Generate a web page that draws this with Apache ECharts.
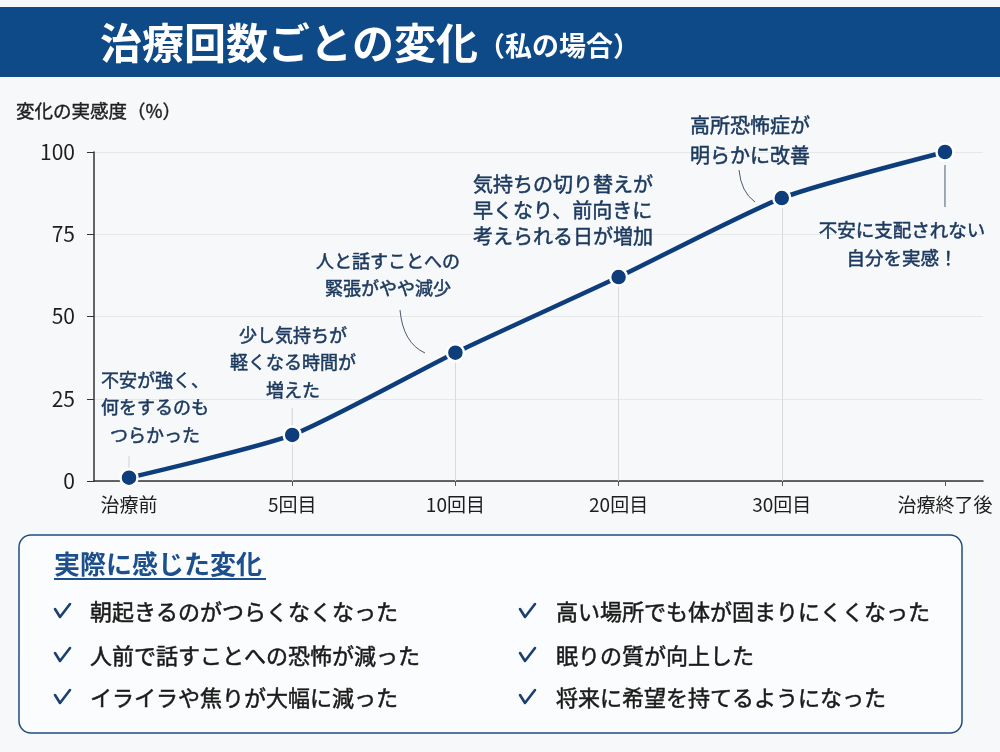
<!DOCTYPE html>
<html lang="ja">
<head>
<meta charset="utf-8">
<title>治療回数ごとの変化</title>
<script src="https://cdn.jsdelivr.net/npm/echarts@6/dist/echarts.min.js"></script>
<style>
  html, body { margin: 0; padding: 0; background: #f7f8f9; }
  #chart { width: 1000px; height: 752px; }
</style>
</head>
<body>
<div id="chart"></div>
<script>
// データ
const categories = ['治療前', '5回目', '10回目', '20回目', '30回目', '治療終了後'];
const values = [1, 14, 39, 62, 86, 100];
const yTicks = [0, 25, 50, 75, 100];
const notes = [
  '不安が強く、\n何をするのも\nつらかった',
  '少し気持ちが\n軽くなる時間が\n増えた',
  '人と話すことへの\n緊張がやや減少',
  '気持ちの切り替えが\n早くなり、前向きに\n考えられる日が増加',
  '高所恐怖症が\n明らかに改善',
  '不安に支配されない\n自分を実感！'
];
const changesLeft = ['朝起きるのがつらくなくなった', '人前で話すことへの恐怖が減った', 'イライラや焦りが大幅に減った'];
const changesRight = ['高い場所でも体が固まりにくくなった', '眠りの質が向上した', '将来に希望を持てるようになった'];

const FONT = '"Noto Sans CJK JP", "Noto Sans", sans-serif';
const NAVY = '#0d3d7b';
const TEXT_NAVY = '#1c3a60';

// 注釈の配置（テキスト枠の基準位置）
const noteLayout = [
  { x: 155, y: 366, align: 'center', size: 18, lh: 27.5 },
  { x: 293, y: 321, align: 'center', size: 18, lh: 27.5 },
  { x: 388, y: 248, align: 'center', size: 18, lh: 27 },
  { x: 473, y: 171, align: 'left', size: 20, lh: 26 },
  { x: 690, y: 110, align: 'left', size: 20, lh: 30 },
  { x: 902, y: 216, align: 'center', size: 18.5, lh: 28 }
];

const chart = echarts.init(document.getElementById('chart'));

chart.setOption({
  backgroundColor: '#f7f8f9',
  animation: false,
  grid: { left: 94, right: 17, top: 152, bottom: 271 },
  xAxis: {
    type: 'value',
    min: -0.2145,
    max: 5.233,
    axisLine: { show: true, onZero: false, lineStyle: { color: '#333', width: 1.5 } },
    axisTick: { show: true, length: 5, customValues: categories.map((_, i) => i), lineStyle: { color: '#555' } },
    axisLabel: {
      customValues: categories.map((_, i) => i),
      formatter: v => categories[Math.round(v)],
      fontSize: 19, color: '#1e1e1e', fontFamily: FONT, margin: 14
    },
    splitLine: { show: false }
  },
  yAxis: {
    type: 'value',
    min: yTicks[0],
    max: yTicks[yTicks.length - 1],
    interval: 25,
    axisLine: { show: true, onZero: false, lineStyle: { color: '#333', width: 1.5 } },
    axisTick: { show: true, length: 7, lineStyle: { color: '#333' } },
    axisLabel: { fontSize: 21, color: '#1e1e1e', fontFamily: FONT, margin: 19 },
    splitLine: { lineStyle: { color: '#e6e7e9', width: 1 } }
  },
  series: [{
    type: 'line',
    data: values.map((v, i) => [i, v]),
    smooth: 0.2,
    symbol: 'circle',
    symbolSize: 17,
    lineStyle: { color: NAVY, width: 4.5 },
    itemStyle: { color: NAVY, borderColor: '#fff', borderWidth: 2.5 },
    z: 5,
    markLine: {
      silent: true,
      symbol: 'none',
      label: { show: false },
      lineStyle: { color: '#d9dadc', width: 1, type: 'solid' },
      data: values.slice(1, 5).map((v, k) => [{ coord: [k + 1, v] }, { coord: [k + 1, 0] }])
    }
  }]
});

const pts = values.map((v, i) => chart.convertToPixel({ seriesIndex: 0 }, [i, v]));
const graphics = [];

// タイトル帯
graphics.push({
  type: 'rect', shape: { x: 0, y: 7, width: 1000, height: 70 },
  style: { fill: '#0e4a88' }, z: 1
});
graphics.push({
  type: 'text', x: 100, y: 43, z: 2,
  style: {
    text: '{a|治療回数ごとの変化}{b|（私の場合）}',
    verticalAlign: 'middle',
    rich: {
      a: { fontSize: 42, fontWeight: 'bold', fill: '#fff', fontFamily: FONT },
      b: { fontSize: 27, fontWeight: 'bold', fill: '#fff', fontFamily: FONT, padding: [6, 0, 0, 0] }
    }
  }
});
// y軸名
graphics.push({
  type: 'text', x: 16, y: 111,
  style: {
    text: '変化の実感度（%）', fontSize: 18.5, fill: '#1e1e1e', fontFamily: FONT, verticalAlign: 'middle',
    stroke: '#1e1e1e', lineWidth: 0.4
  }
});

// 注釈テキスト
notes.forEach((t, i) => {
  const L = noteLayout[i];
  graphics.push({
    type: 'text', x: L.x, y: L.y, z: 10,
    style: {
      text: t, fontSize: L.size, fill: TEXT_NAVY, fontFamily: FONT,
      align: L.align, verticalAlign: 'top', lineHeight: L.lh,
      stroke: TEXT_NAVY, lineWidth: 0.5
    }
  });
});

// 引き出し線
const curve = (x1, y1, cx, cy, x2, y2, color) => ({
  type: 'bezierCurve', z: 4,
  shape: { x1, y1, cpx1: cx, cpy1: cy, x2, y2 },
  style: { stroke: color, lineWidth: 1, fill: null }
});
graphics.push(curve(pts[0][0], pts[0][1] - 22, pts[0][0], pts[0][1] - 16, pts[0][0], pts[0][1] - 10, '#cfd1d4'));
graphics.push(curve(pts[1][0], pts[1][1] - 27, pts[1][0], pts[1][1] - 18, pts[1][0], pts[1][1] - 9, '#cfd1d4'));
graphics.push(curve(400, 310, 403, 343, 425, 353, '#4b5b70'));
graphics.push(curve(739, 170, 741, 192, 755, 202, '#4b5b70'));
graphics.push(curve(pts[5][0], pts[5][1] + 13, pts[5][0], pts[5][1] + 30, pts[5][0], pts[5][1] + 55, '#4b5b70'));

// 実際に感じた変化 ボックス
graphics.push({
  type: 'rect', shape: { x: 19, y: 535, width: 943, height: 198, r: 12 },
  style: { fill: '#fbfcfd', stroke: '#1f4c80', lineWidth: 1.5 }
});
graphics.push({
  type: 'text', x: 54, y: 564,
  style: { text: '実際に感じた変化', fontSize: 26, fontWeight: 'bold', fill: '#1d4f8c', fontFamily: FONT, verticalAlign: 'middle' }
});
graphics.push({
  type: 'line', shape: { x1: 54, y1: 579, x2: 266, y2: 579 },
  style: { stroke: '#1d4f8c', lineWidth: 2 }
});
const rowY = [612, 656, 698];
[[changesLeft, 62, 90], [changesRight, 527, 556]].forEach(([items, cx, tx]) => {
  items.forEach((t, r) => {
    const y = rowY[r];
    // チェックマーク
    graphics.push({
      type: 'polyline',
      shape: { points: [[cx - 7, y - 3], [cx - 2, y + 5], [cx + 8, y - 8]] },
      style: { stroke: '#1b3f70', lineWidth: 2.6, fill: null, lineCap: 'round', lineJoin: 'round' }
    });
    graphics.push({
      type: 'text', x: tx, y: y,
      style: {
        text: t, fontSize: 22, fill: '#1a1a1a', fontFamily: FONT, verticalAlign: 'middle',
        stroke: '#1a1a1a', lineWidth: 0.5
      }
    });
  });
});

chart.setOption({ graphic: graphics });
</script>
</body>
</html>
